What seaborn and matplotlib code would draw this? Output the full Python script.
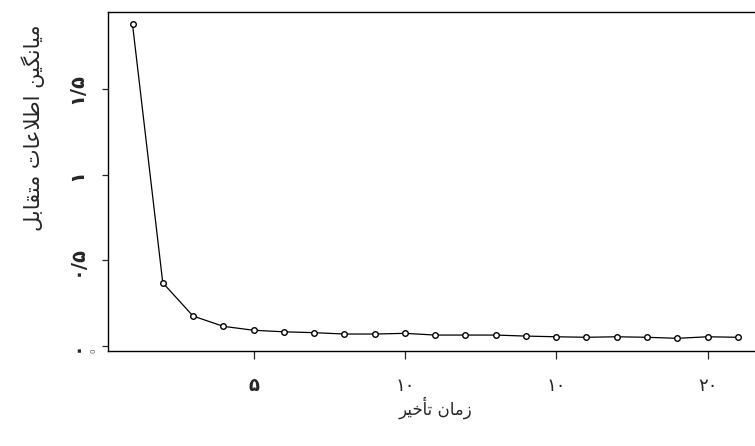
import matplotlib
matplotlib.use("Agg")
import matplotlib.pyplot as plt
import seaborn as sns
import pandas as pd

# ---------------- data ----------------
lags = list(range(1, 22))
ami = [1.877, 0.369, 0.175, 0.115, 0.092, 0.083, 0.078, 0.070, 0.070, 0.074,
       0.064, 0.064, 0.064, 0.058, 0.054, 0.051, 0.054, 0.051, 0.045, 0.054, 0.051]
x_ticks = [5, 10, 15, 20]
x_tick_labels = ["۵", "۱۰", "۱۰", "۲۰"]
y_ticks = [0, 0.5, 1, 1.5]
y_tick_labels = ["۰", "۰/۵", "۱", "۱/۵"]
x_label = "زمان تأخیر"
y_label = "میانگین اطلاعات متقابل"

# -------- minimal Arabic/Persian shaping (matplotlib has no RTL shaping) --------
FORMS = {
    'ا': (0xFE8D, 0xFE8E, None, None),
    'أ': (0xFE83, 0xFE84, None, None),
    'ر': (0xFEAD, 0xFEAE, None, None),
    'ز': (0xFEAF, 0xFEB0, None, None),
    'ب': (0xFE8F, 0xFE90, 0xFE91, 0xFE92),
    'ت': (0xFE95, 0xFE96, 0xFE97, 0xFE98),
    'خ': (0xFEA5, 0xFEA6, 0xFEA7, 0xFEA8),
    'ط': (0xFEC1, 0xFEC2, 0xFEC3, 0xFEC4),
    'ع': (0xFEC9, 0xFECA, 0xFECB, 0xFECC),
    'ق': (0xFED5, 0xFED6, 0xFED7, 0xFED8),
    'ل': (0xFEDD, 0xFEDE, 0xFEDF, 0xFEE0),
    'م': (0xFEE1, 0xFEE2, 0xFEE3, 0xFEE4),
    'ن': (0xFEE5, 0xFEE6, 0xFEE7, 0xFEE8),
    'گ': (0xFB92, 0xFB93, 0xFB94, 0xFB95),
    'ی': (0xFBFC, 0xFBFD, 0xFBFE, 0xFBFF),
}


def shape(text):
    chars = list(text)
    merged = []
    i = 0
    while i < len(chars):
        if chars[i] == 'ل' and i + 1 < len(chars) and chars[i + 1] == 'ا':
            merged.append('LA')
            i += 2
        else:
            merged.append(chars[i])
            i += 1

    def joins_left(c):
        return c in FORMS and FORMS[c][2] is not None

    def is_letter(c):
        return c in FORMS or c == 'LA'

    out = []
    for k, c in enumerate(merged):
        prev = merged[k - 1] if k > 0 else None
        nxt = merged[k + 1] if k + 1 < len(merged) else None
        con_prev = prev is not None and joins_left(prev)
        if c == 'LA':
            out.append(chr(0xFEFC if con_prev else 0xFEFB))
            continue
        if c not in FORMS:
            out.append(c)
            continue
        iso, fin, ini, med = FORMS[c]
        con_next = ini is not None and nxt is not None and is_letter(nxt)
        if con_prev and con_next:
            out.append(chr(med))
        elif con_prev:
            out.append(chr(fin))
        elif con_next:
            out.append(chr(ini))
        else:
            out.append(chr(iso))
    return ''.join(reversed(out))


# ---------------- plot ----------------
sns.set_style("ticks")
plt.rcParams['font.family'] = ['DejaVu Sans']

W, H = 755, 446
fig = plt.figure(figsize=(W / 100, H / 100), dpi=100)
left_px, right_px, top_px, bottom_px = 108.3, 762.0, 12.3, 351.0
ax = fig.add_axes([left_px / W, 1 - bottom_px / H,
                   (right_px - left_px) / W, (bottom_px - top_px) / H])

df = pd.DataFrame({"lag": lags, "ami": ami})
sns.lineplot(data=df, x="lag", y="ami", ax=ax, color="black", linewidth=0.9,
             marker="o", markersize=4, markerfacecolor="white",
             markeredgecolor="black", markeredgewidth=1.0)

ax.set_xlim(0.2, 21.8)
ax.set_ylim(-0.029, 1.947)

for s in ax.spines.values():
    s.set_linewidth(1.0)
    s.set_color("black")

ax.set_xticks(x_ticks)
ax.set_xticklabels(x_tick_labels, fontsize=13)
ax.get_xticklabels()[0].set_fontweight("bold")
ax.set_yticks(y_ticks)
ax.set_yticklabels(y_tick_labels, fontsize=14, rotation=90, va="center",
                   fontweight="bold")
ax.tick_params(axis="x", length=6, width=0.9, pad=13)
ax.tick_params(axis="y", length=4, width=0.9, pad=12)

ax.set_xlabel(shape(x_label), fontsize=12, labelpad=1)
ax.set_ylabel(shape(y_label), fontsize=15)
ax.yaxis.set_label_coords(-0.097, 0.66)

fig.text(93 / W, 1 - 351 / H, "0", fontsize=5, rotation=90, color="#555555",
         ha="center", va="center")

fig.savefig("out.png", dpi=100)
